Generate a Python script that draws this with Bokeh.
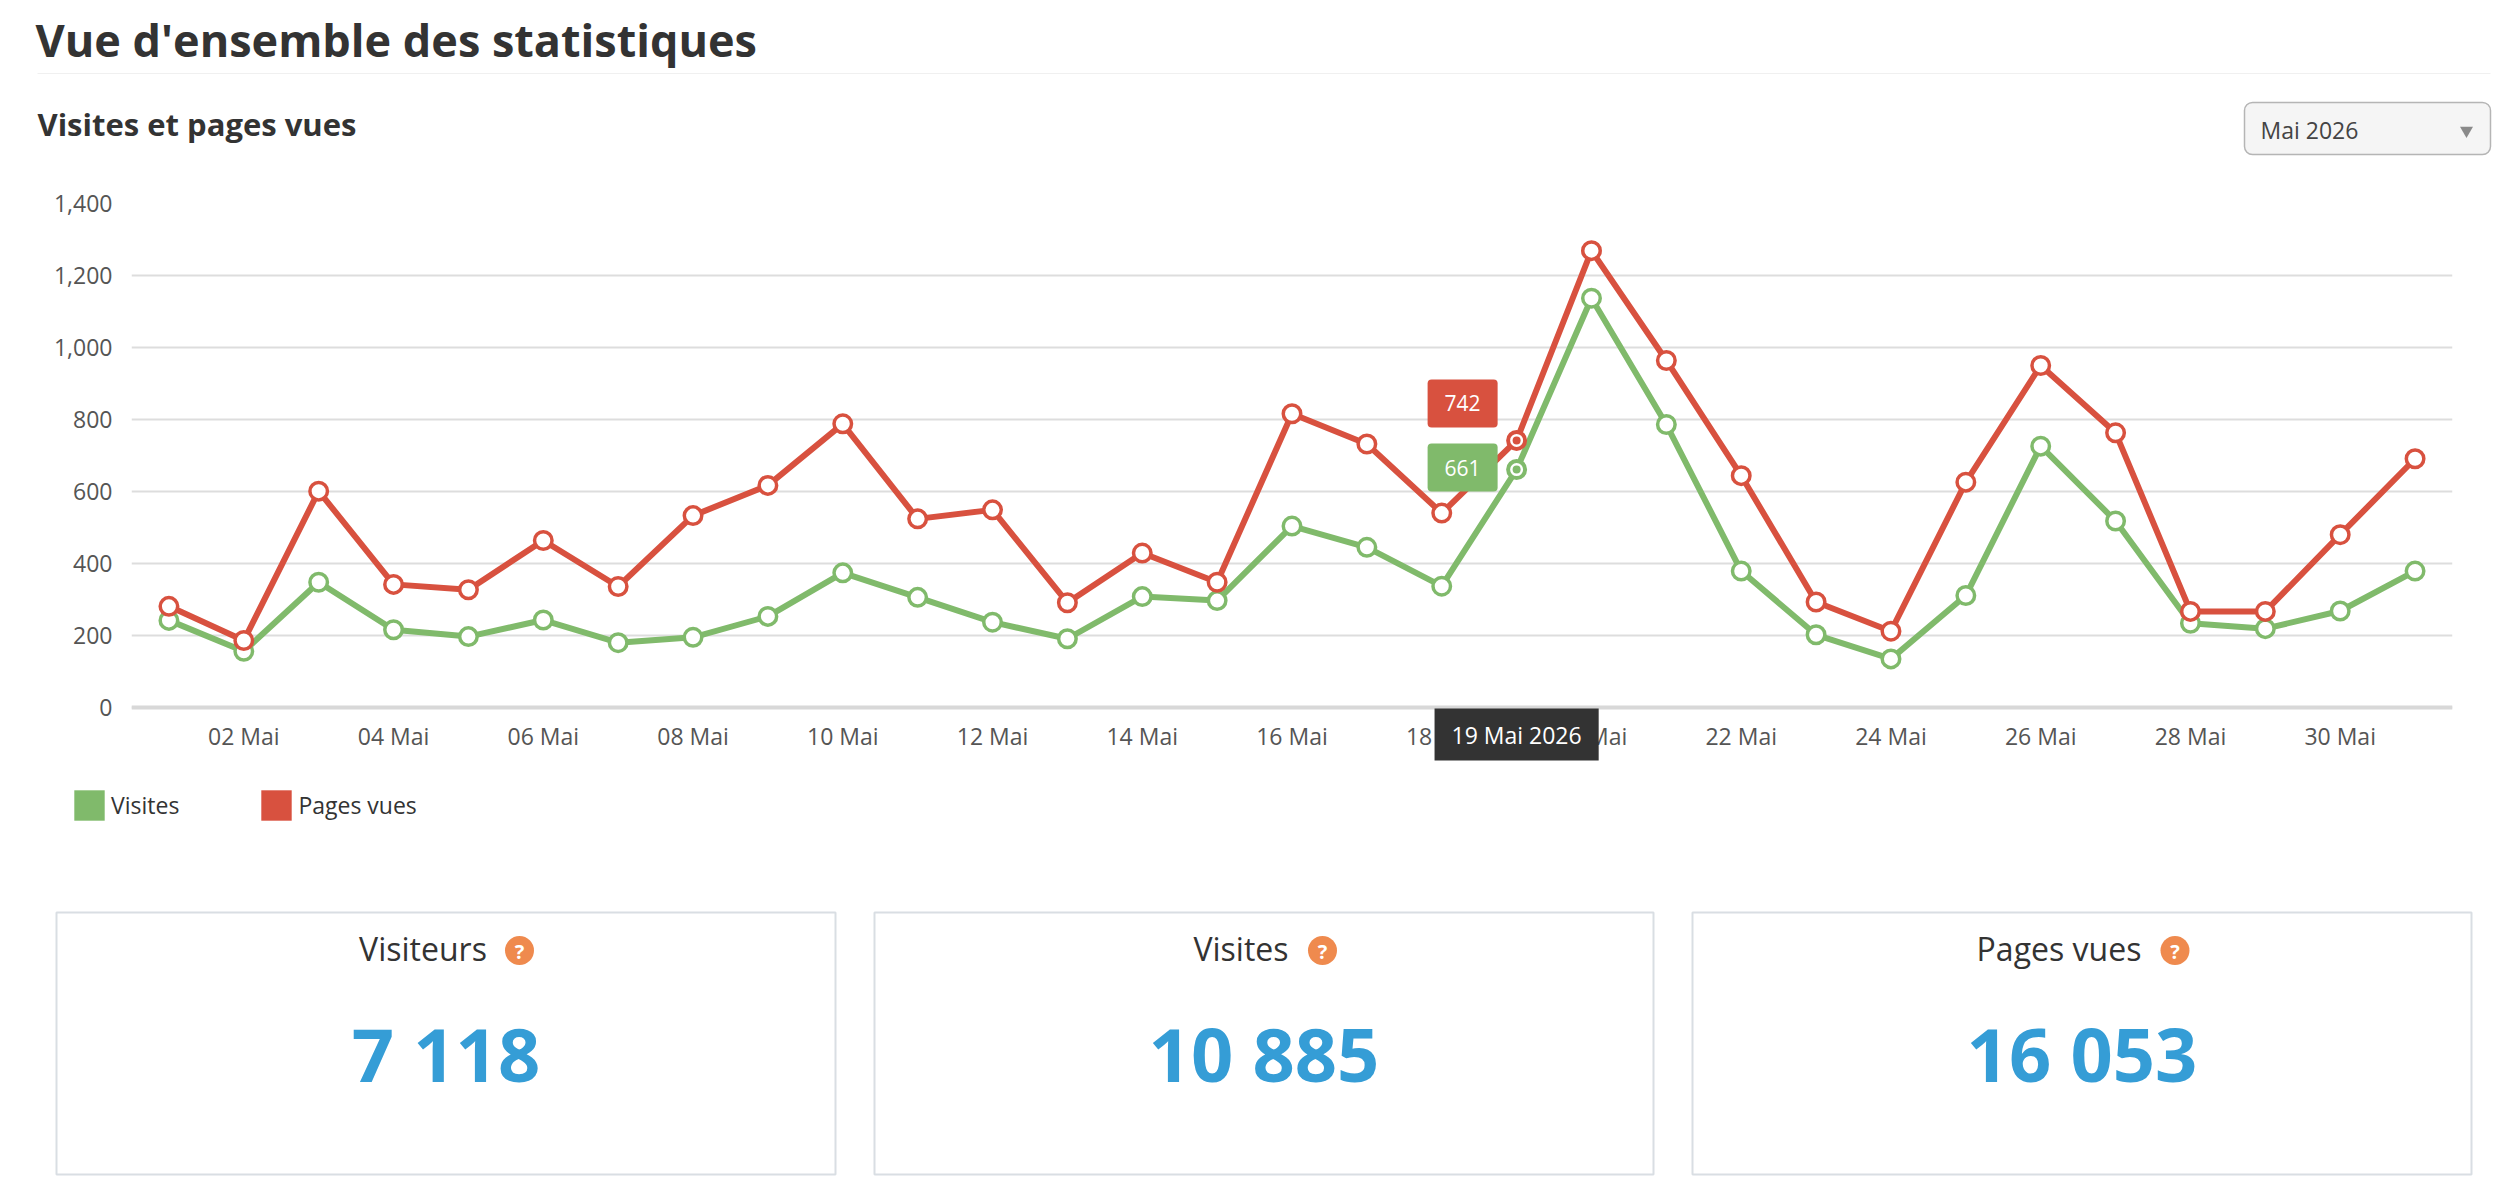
from bokeh.plotting import figure
from bokeh.models import Range1d, FixedTicker, Label, Legend, LegendItem
from bokeh.embed import file_html
from bokeh.resources import INLINE
from bokeh.core.properties import value

# ---------------- data ----------------
PAGE_TITLE = "Vue d'ensemble des statistiques"
CHART_TITLE = "Visites et pages vues"
PERIOD = "Mai 2026"
SERIES = ["Visites", "Pages vues"]

days = list(range(1, 32))
visites = [242, 156, 348, 216, 197, 243, 180, 195, 253, 374, 306, 237, 191, 308, 297,
           504, 445, 337, 661, 1137, 786, 379, 202, 135, 311, 726, 518, 234, 219, 268, 379]
pages_vues = [281, 186, 601, 342, 327, 464, 336, 533, 617, 788, 524, 549, 291, 429, 348,
              816, 732, 540, 742, 1269, 964, 644, 293, 212, 626, 950, 763, 267, 267, 480, 691]

TICK_DAYS = [2, 4, 6, 8, 10, 12, 14, 16, 18, 20, 22, 24, 26, 28, 30]
TICK_LABELS = ["02 Mai", "04 Mai", "06 Mai", "08 Mai", "10 Mai", "12 Mai", "14 Mai", "16 Mai",
               "18 Mai", "20 Mai", "22 Mai", "24 Mai", "26 Mai", "28 Mai", "30 Mai"]
Y_TICKS = [0, 200, 400, 600, 800, 1000, 1200, 1400]
Y_LABELS = ["0", "200", "400", "600", "800", "1,000", "1,200", "1,400"]

HIGHLIGHT_DAY = 19

CARD_TITLES = ["Visiteurs", "Visites", "Pages vues"]
CARD_VALUES = [7118, 10885, 16053]

# ---------------- style ----------------
FONT_NAME = "Open Sans"
FONT = value(FONT_NAME)
GREEN = "#80ba6b"
RED = "#d8513f"
BLUE = "#359dd6"
ORANGE = "#ef8a4e"
DARK = "#333333"
W = 2496


def blank(height):
    return figure(width=W, height=height, x_range=Range1d(0, W), y_range=Range1d(height, 0),
                  x_axis_type=None, y_axis_type=None, toolbar_location=None,
                  output_backend="svg", min_border=0, outline_line_color=None)


# ---------------- header ----------------
HH = 180
hdr = blank(HH)
hdr.text(x=[35], y=[39], text=[PAGE_TITLE], text_font=FONT, text_font_size="45px",
         text_font_style="bold", text_color=DARK, text_baseline="alphabetic")
hdr.segment(x0=[37], x1=[2490], y0=[73], y1=[73], line_color="#f0f0f0", line_width=1)
hdr.text(x=[37], y=[123], text=[CHART_TITLE], text_font=FONT, text_font_size="31px",
         text_font_style="bold", text_color=DARK, text_baseline="alphabetic")
hdr.quad(left=[2244], right=[2490], top=[102], bottom=[154], fill_color="#f5f5f5",
         line_color="#b5b5b5", line_width=1.5, border_radius=8)
hdr.text(x=[2260], y=[129], text=[PERIOD], text_font=FONT, text_font_size="23px",
         text_color="#444444", text_baseline="alphabetic")
hdr.scatter(x=[2466], y=[130], marker="inverted_triangle", size=13,
            fill_color="#8a8a8a", line_color=None)

# ---------------- chart ----------------
PH = 600
p = figure(width=W, height=PH, x_range=Range1d(0.5, 31.5), y_range=Range1d(-175, 1400),
           toolbar_location=None, output_backend="svg",
           min_border_left=131, min_border_right=W - 2452, min_border_top=23, min_border_bottom=10,
           outline_line_color=None)

p.xaxis.fixed_location = 0
p.xaxis.ticker = FixedTicker(ticks=TICK_DAYS)
p.xaxis.major_label_overrides = dict(zip(TICK_DAYS, TICK_LABELS))
p.yaxis.ticker = FixedTicker(ticks=Y_TICKS)
p.yaxis.major_label_overrides = dict(zip(Y_TICKS, Y_LABELS))
for ax in (p.xaxis, p.yaxis):
    ax.major_tick_line_color = None
    ax.minor_tick_line_color = None
    ax.major_label_text_font = FONT_NAME
    ax.major_label_text_font_size = "23px"
    ax.major_label_text_color = "#555555"
p.yaxis.axis_line_color = None
p.yaxis.major_label_standoff = 13
p.xaxis.axis_line_color = "#d8d8d8"
p.xaxis.axis_line_width = 4
p.xaxis.major_label_standoff = 6
p.xgrid.grid_line_color = None
p.ygrid.grid_line_color = "#dddddd"
p.ygrid.grid_line_width = 2

p.line(days, visites, line_color=GREEN, line_width=6, line_join="round")
p.scatter(days, visites, size=17.5, fill_color="white", line_color=GREEN, line_width=3.5)
p.line(days, pages_vues, line_color=RED, line_width=6, line_join="round")
p.scatter(days, pages_vues, size=17.5, fill_color="white", line_color=RED, line_width=3.5)

hi = days.index(HIGHLIGHT_DAY)
for vals, col in ((visites, GREEN), (pages_vues, RED)):
    p.scatter([days[hi]], [vals[hi]], size=16, fill_color="white", line_color=col, line_width=3)
    p.scatter([days[hi]], [vals[hi]], size=8, fill_color=col, line_color=None)

p.add_layout(Label(x=days[hi], y=pages_vues[hi], x_offset=-54, y_offset=37,
                   text=str(pages_vues[hi]), text_align="center", text_baseline="middle",
                   text_color="white", text_font=FONT_NAME, text_font_size="21px",
                   background_fill_color=RED, padding=(17, 16), border_radius=4))
p.add_layout(Label(x=days[hi], y=visites[hi], x_offset=-54, y_offset=2,
                   text=str(visites[hi]), text_align="center", text_baseline="middle",
                   text_color="white", text_font=FONT_NAME, text_font_size="21px",
                   background_fill_color=GREEN, padding=(17, 16), border_radius=4))
p.add_layout(Label(x=days[hi], y=0, y_offset=-27,
                   text=f"{HIGHLIGHT_DAY} {PERIOD}", text_align="center", text_baseline="middle",
                   text_color="white", text_font=FONT_NAME, text_font_size="23px",
                   background_fill_color=DARK, padding=(17, 10)))

# ---------------- legend ----------------
LH = 60
lg = blank(LH)
# legend proxies, kept outside the visible range
lg_g = lg.quad(left=[-100], right=[-90], top=[-100], bottom=[-90], fill_color=GREEN, line_color=None)
lg_r = lg.quad(left=[-100], right=[-90], top=[-100], bottom=[-90], fill_color=RED, line_color=None)
legend = Legend(items=[LegendItem(label=SERIES[0], renderers=[lg_g]),
                       LegendItem(label=SERIES[1], renderers=[lg_r])],
                location=(70, 16), orientation="horizontal",
                glyph_width=38, glyph_height=38, label_standoff=3, spacing=78,
                padding=0, margin=0, border_line_color=None, background_fill_alpha=0,
                label_text_font=FONT_NAME, label_text_font_size="23px",
                label_text_color=DARK)
lg.add_layout(legend)

# ---------------- cards ----------------
CH = 336
cards = blank(CH)
CARD_LEFT = [56, 874, 1692]
CARD_W = 779
ICON_DX = [73.5, 58.5, 93]
centers = [l + CARD_W / 2 for l in CARD_LEFT]
cards.quad(left=CARD_LEFT, right=[l + CARD_W for l in CARD_LEFT], top=[72] * 3, bottom=[334] * 3,
           fill_color="white", line_color="#d9dee3", line_width=2)
cards.text(x=[c - 23 for c in centers], y=[108] * 3, text=CARD_TITLES, text_font=FONT,
           text_font_size="32px", text_color=DARK, text_align="center", text_baseline="alphabetic")
icon_x = [c + d for c, d in zip(centers, ICON_DX)]
cards.scatter(x=icon_x, y=[110] * 3, size=29, fill_color=ORANGE, line_color=None)
cards.text(x=icon_x, y=[111] * 3, text=["?"] * 3, text_font=FONT, text_font_size="20px",
           text_font_style="bold", text_color="white", text_align="center", text_baseline="middle")
cards.text(x=centers, y=[213] * 3, text=[f"{v:,}".replace(",", " ") for v in CARD_VALUES],
           text_font=FONT, text_font_size="74px", text_font_style="bold", text_color=BLUE,
           text_align="center", text_baseline="alphabetic")

open("out.html", "w").write(file_html([hdr, p, lg, cards], INLINE))
